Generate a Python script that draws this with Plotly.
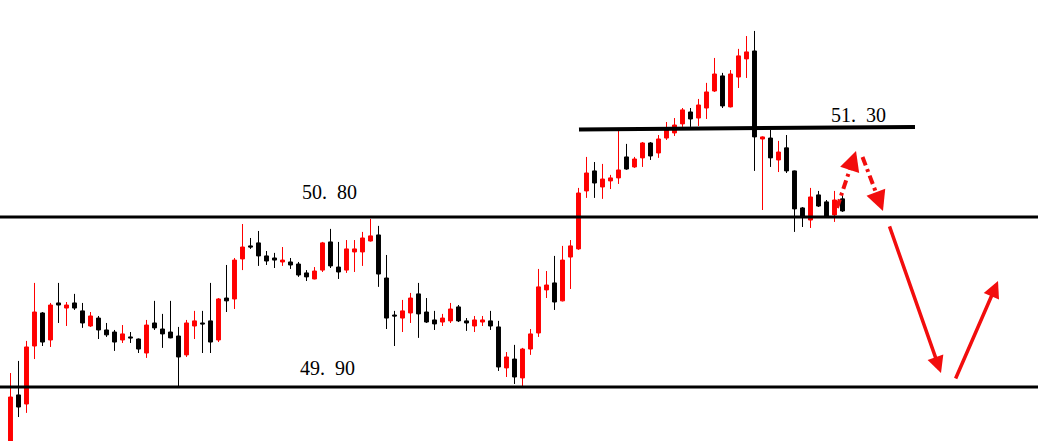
import plotly.graph_objects as go

# ---------------- data (prices) ----------------
opens = [49.598, 49.858, 49.810, 50.117, 50.292, 50.149, 50.345, 50.318, 50.345, 50.303,
         50.223, 50.265, 50.202, 50.191, 50.149, 50.165, 50.154, 50.080, 50.239, 50.207,
         50.191, 50.170, 50.070, 50.223, 50.239, 50.250, 50.149, 50.371, 50.366, 50.578,
         50.647, 50.663, 50.594, 50.583, 50.562, 50.562, 50.551, 50.504, 50.472, 50.519,
         50.668, 50.535, 50.519, 50.615, 50.615, 50.673, 50.705, 50.477, 50.281, 50.265,
         50.292, 50.393, 50.297, 50.255, 50.244, 50.250, 50.324, 50.250, 50.223, 50.244,
         50.250, 50.218, 50.001, 50.048, 49.948, 50.101, 50.186, 50.414, 50.451, 50.356,
         50.588, 50.631, 50.938, 51.044, 50.959, 50.991, 51.007, 51.118, 51.065, 51.113,
         51.192, 51.139, 51.218, 51.245, 51.293, 51.356, 51.324, 51.377, 51.467, 51.547,
         51.383, 51.541, 51.637, 51.679, 51.213, 51.218, 51.102, 51.166, 51.044, 50.848,
         50.784, 50.917, 50.880, 50.811, 50.896]
highs = [49.974, 50.038, 50.144, 50.451, 50.297, 50.345, 50.451, 50.350, 50.393, 50.345,
         50.297, 50.276, 50.239, 50.202, 50.228, 50.191, 50.157, 50.255, 50.356, 50.287,
         50.356, 50.218, 50.255, 50.303, 50.303, 50.451, 50.371, 50.546, 50.583, 50.763,
         50.689, 50.726, 50.620, 50.610, 50.641, 50.583, 50.562, 50.519, 50.535, 50.668,
         50.737, 50.668, 50.678, 50.678, 50.721, 50.790, 50.753, 50.599, 50.303, 50.361,
         50.398, 50.451, 50.371, 50.303, 50.287, 50.345, 50.334, 50.265, 50.276, 50.276,
         50.303, 50.250, 50.085, 50.123, 50.107, 50.207, 50.525, 50.514, 50.594, 50.647,
         50.678, 50.954, 51.118, 51.091, 51.081, 51.023, 51.256, 51.187, 51.118, 51.197,
         51.197, 51.234, 51.303, 51.324, 51.377, 51.377, 51.425, 51.510, 51.642, 51.563,
         51.578, 51.690, 51.758, 51.785, 51.227, 51.261, 51.203, 51.234, 51.046, 50.853,
         50.954, 50.938, 50.890, 50.938, 50.927]
lows = [49.577, 49.741, 49.763, 50.048, 50.117, 50.112, 50.239, 50.223, 50.308, 50.213,
        50.218, 50.154, 50.165, 50.091, 50.133, 50.133, 50.080, 50.054, 50.202, 50.107,
        50.158, 49.905, 50.059, 50.154, 50.080, 50.080, 50.138, 50.297, 50.313, 50.519,
        50.631, 50.541, 50.546, 50.530, 50.541, 50.525, 50.483, 50.461, 50.470, 50.509,
        50.530, 50.472, 50.504, 50.509, 50.541, 50.670, 50.430, 50.207, 50.117, 50.191,
        50.239, 50.160, 50.239, 50.202, 50.223, 50.239, 50.244, 50.197, 50.191, 50.223,
        50.202, 49.985, 49.953, 49.916, 49.895, 50.070, 50.165, 50.371, 50.308, 50.353,
        50.419, 50.626, 50.901, 50.901, 50.896, 50.948, 50.975, 51.050, 51.060, 51.065,
        51.102, 51.113, 51.208, 51.229, 51.277, 51.277, 51.282, 51.319, 51.462, 51.377,
        51.380, 51.483, 51.536, 51.044, 50.837, 51.065, 51.038, 51.033, 50.721, 50.747,
        50.742, 50.853, 50.797, 50.774, 50.827]
closes = [49.847, 49.794, 50.112, 50.297, 50.138, 50.334, 50.334, 50.334, 50.318, 50.239,
          50.276, 50.202, 50.176, 50.138, 50.181, 50.160, 50.101, 50.228, 50.213, 50.181,
          50.160, 50.059, 50.239, 50.250, 50.234, 50.138, 50.366, 50.356, 50.572, 50.641,
          50.641, 50.594, 50.567, 50.572, 50.572, 50.546, 50.493, 50.483, 50.514, 50.663,
          50.541, 50.509, 50.631, 50.631, 50.689, 50.700, 50.498, 50.265, 50.276, 50.303,
          50.371, 50.287, 50.244, 50.234, 50.265, 50.313, 50.250, 50.239, 50.255, 50.255,
          50.223, 50.006, 50.059, 49.953, 50.101, 50.181, 50.430, 50.440, 50.350, 50.572,
          50.647, 50.927, 51.033, 50.980, 51.001, 51.007, 51.049, 51.054, 51.107, 51.192,
          51.123, 51.213, 51.261, 51.287, 51.367, 51.319, 51.393, 51.462, 51.557, 51.388,
          51.557, 51.653, 51.674, 51.224, 51.224, 51.113, 51.144, 51.044, 50.843, 50.800,
          50.906, 50.858, 50.800, 50.890, 50.832]
bars = list(range(len(opens)))

# horizontal levels and their labels
levels = [50.80, 49.90]
level_labels = ["50.\u200280", "49.\u200290"]
level_label_x = [39.9, 39.6]
level_label_y = [50.933, 50.001]

# upper resistance segment (bar index, price) and its label
res_x = [71.06, 113.06]
res_y = [51.263, 51.277]
res_label = "51.\u200230"
res_label_xy = (105.94, 51.340)

# projected path arrows: (tail bar, tail price, tip bar, tip price)
dashed_arrows = [(103.31, 50.848, 105.69, 51.150),
                 (106.50, 51.118, 109.06, 50.832)]
solid_arrows = [(109.81, 50.758, 116.31, 49.974),
                (118.06, 49.937, 123.44, 50.461)]

RED = "#ff0000"
ARROW_RED = "#f20d0d"
FONT = "Liberation Serif"

fig = go.Figure()
fig.add_trace(go.Candlestick(
    x=bars, open=opens, high=highs, low=lows, close=closes,
    increasing=dict(line=dict(color=RED, width=1), fillcolor=RED),
    decreasing=dict(line=dict(color="#000000", width=1), fillcolor="#000000"),
    whiskerwidth=0, hoverinfo="skip", showlegend=False,
))

shapes = []
for lv in levels:
    shapes.append(dict(type="line", xref="paper", yref="y", x0=0, x1=1, y0=lv, y1=lv,
                       line=dict(color="#000000", width=3)))
shapes.append(dict(type="line", xref="x", yref="y", x0=res_x[0], x1=res_x[1],
                   y0=res_y[0], y1=res_y[1], line=dict(color="#000000", width=4)))

annotations = []
for txt, lx, ly in zip(level_labels, level_label_x, level_label_y):
    annotations.append(dict(x=lx, y=ly, xref="x", yref="y", text=txt, showarrow=False,
                            font=dict(family=FONT, size=20, color="#000000")))
annotations.append(dict(x=res_label_xy[0], y=res_label_xy[1], xref="x", yref="y",
                        text=res_label, showarrow=False,
                        font=dict(family=FONT, size=20, color="#000000")))

for (tx, ty, hx, hy) in solid_arrows:
    annotations.append(dict(x=hx, y=hy, ax=tx, ay=ty, xref="x", yref="y", axref="x", ayref="y",
                            text="", showarrow=True, arrowhead=2, arrowsize=0.95,
                            arrowwidth=3.5, arrowcolor=ARROW_RED))

for (tx, ty, hx, hy) in dashed_arrows:
    fig.add_trace(go.Scatter(x=[tx, hx - 0.2 * (hx - tx)], y=[ty, hy - 0.2 * (hy - ty)],
                             mode="lines", hoverinfo="skip", showlegend=False,
                             line=dict(color=ARROW_RED, width=4, dash="9px,4px,3px,4px")))
    sx, sy = hx - 0.25 * (hx - tx), hy - 0.25 * (hy - ty)
    annotations.append(dict(x=hx, y=hy, ax=sx, ay=sy, xref="x", yref="y", axref="x", ayref="y",
                            text="", showarrow=True, arrowhead=2, arrowsize=1.0,
                            arrowwidth=4, arrowcolor=ARROW_RED))

fig.update_layout(
    width=1038, height=441,
    margin=dict(l=0, r=0, t=0, b=0),
    paper_bgcolor="#ffffff", plot_bgcolor="#ffffff",
    showlegend=False, hovermode=False,
    shapes=shapes, annotations=annotations,
    xaxis=dict(range=[-1.3125, 128.4375], visible=False, rangeslider=dict(visible=False),
               fixedrange=True),
    yaxis=dict(range=[49.61412, 51.94882], visible=False, fixedrange=True),
)

fig.write_html("out.html", config={"displayModeBar": False},
               post_script="document.body.style.margin='0';document.body.style.overflow='hidden';")
